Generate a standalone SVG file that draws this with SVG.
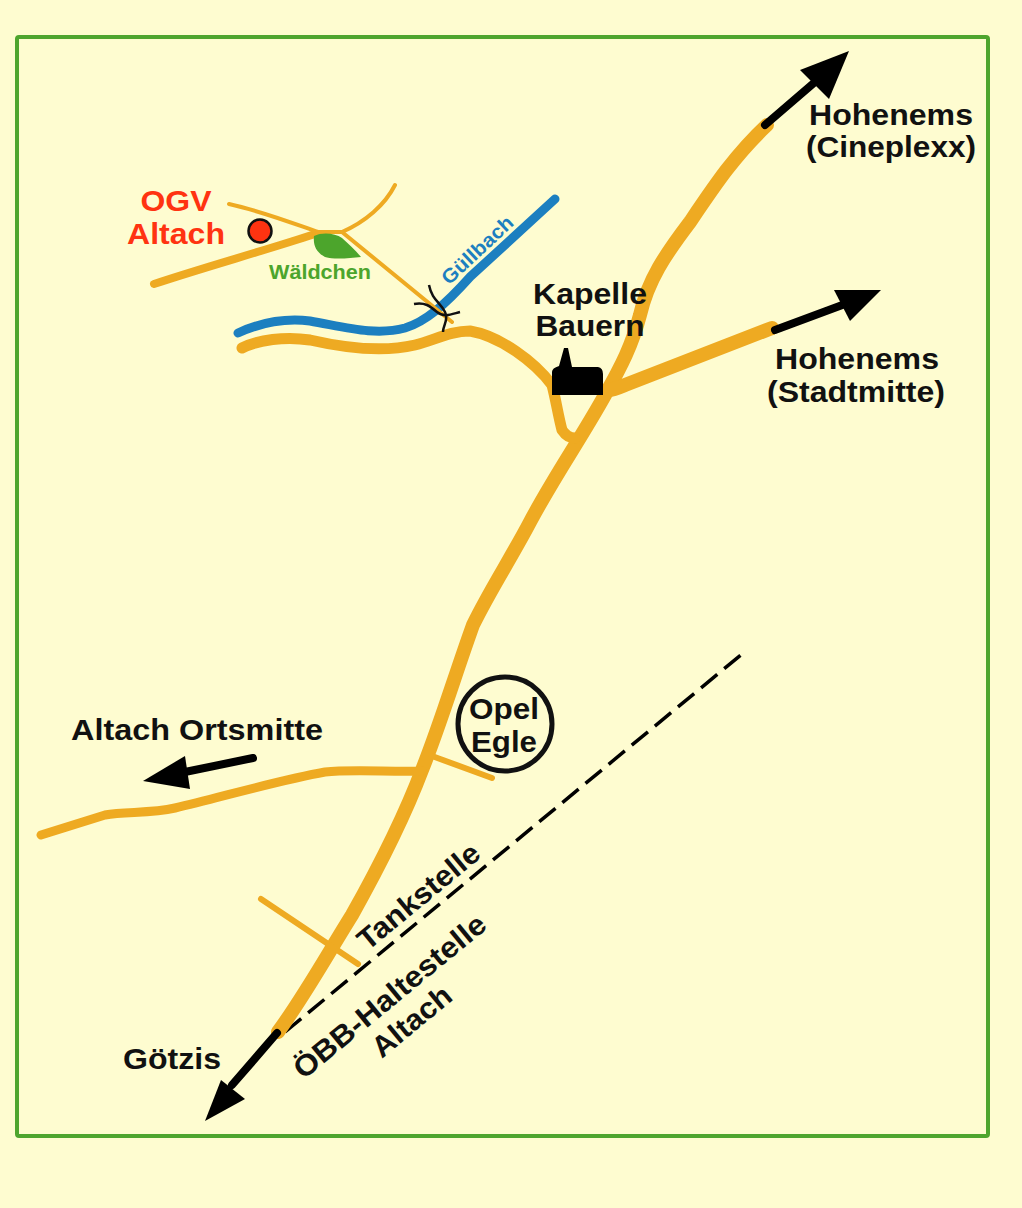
<svg xmlns="http://www.w3.org/2000/svg" width="1022" height="1208" viewBox="0 0 1022 1208">
<style>
.r{fill:none;stroke:#eeaa22;stroke-linecap:round;stroke-linejoin:round}
.a{fill:none;stroke:#000;stroke-width:8;stroke-linecap:round}
.h{fill:#000;stroke:none}
text{font-family:"Liberation Sans",Arial,sans-serif;font-weight:bold;text-anchor:middle}
.t{font-size:29.500px;fill:#111}
.o{font-size:29.500px;fill:#ff3311}
</style>
<rect width="1022" height="1208" fill="#fefcd0"/>
<rect x="17" y="37" width="971" height="1099" rx="2" fill="none" stroke="#4ea52e" stroke-width="4"/>
<g id="connectors">
<path id="railway" d="M285 1032L742 654" fill="none" stroke="#000" stroke-width="3.500" stroke-dasharray="21 9"/>
<path id="bach" d="M238 333C262 322 285 318 310 321C345 327 375 336 405 328C425 322 445 305 470 277L555 199" fill="none" stroke="#1c7fc0" stroke-width="9" stroke-linecap="round"/>
<path class="r" stroke-width="14" d="M767 125C735 155 715 185 690 222C665 255 648 280 640 315C632 345 622 365 605 395C580 440 555 475 530 522C510 560 490 590 473 625C455 675 440 725 422 770C405 815 380 865 352 915C330 950 305 995 278 1032"/>
<path class="r" stroke-width="14" d="M772 328L625 385C618 388 612 390 605 391"/>
<path class="r" stroke-width="11" d="M242 348C258 340 285 336 310 340C345 348 385 352 415 345C435 340 450 331 470 331C500 336 535 362 552 385C556 400 558 415 562 430C566 436 570 438 575 438"/>
<path class="r" stroke-width="9" d="M41 835L105 815C125 811 150 814 175 808C225 796 280 780 325 772C350 769 390 772 422 771"/>
<path class="r" stroke-width="6" d="M432 756L492 778"/>
<path class="r" stroke-width="6" d="M261 899L358 964"/>
<path class="r" stroke-width="8" d="M154 284C205 267 260 252 315 234"/>
<path class="r" stroke-width="4" d="M229 204C265 212 300 226 318 232H342C365 222 385 205 395 185"/>
<path class="r" stroke-width="4" d="M342 232L452 322"/>
</g>
<g id="bridge" fill="none" stroke="#111" stroke-width="2.500">
<path d="M429 285C432 300 440 302 445 312C449 320 443 325 443 332"/>
<path d="M414 304C425 302 430 306 437 312C444 318 452 314 460 312"/>
</g>
<g id="arrow-cineplexx"><path class="a" d="M765 125L815 82"/><path class="h" d="M849 51L800 70L829 99Z"/></g>
<g id="arrow-stadtmitte"><path class="a" d="M775 330L845 304"/><path class="h" d="M881 290L834 290L850 321Z"/></g>
<g id="arrow-ortsmitte"><path class="a" d="M253 758L180 773"/><path class="h" d="M143 781L185 756L190 789Z"/></g>
<g id="arrow-goetzis"><path class="a" d="M277 1033L232 1085"/><path class="h" d="M205 1121L221 1080L245 1099Z"/></g>
<g id="ogv"><circle cx="260" cy="231" r="11.500" fill="#ff3311" stroke="#111" stroke-width="2.500"/>
<text class="o" x="176" y="211" textLength="71" lengthAdjust="spacingAndGlyphs">OGV</text><text class="o" x="176" y="244" textLength="98" lengthAdjust="spacingAndGlyphs">Altach</text></g>
<g id="waeldchen"><path d="M314 236C322 232 335 233 342 238C349 244 356 251 361 257C350 258 335 260 325 257C316 252 313 245 314 236Z" fill="#4ca52c"/>
<text x="320" y="279" font-size="20" fill="#4ca52c" textLength="102" lengthAdjust="spacingAndGlyphs">Wäldchen</text></g>
<g id="guellbach"><text x="482" y="255" font-size="20" fill="#1c7fc0" transform="rotate(-43 482 255)" textLength="90" lengthAdjust="spacingAndGlyphs">Güllbach</text></g>
<g id="kapelle"><path class="h" d="M552 395V372Q552 368 559 366L564 348L568 348L572 367H598Q603 368 603 374V395Z"/>
<text class="t" x="590" y="304" textLength="114" lengthAdjust="spacingAndGlyphs">Kapelle</text><text class="t" x="590" y="336" textLength="109" lengthAdjust="spacingAndGlyphs">Bauern</text></g>
<g id="opel"><circle cx="505" cy="724" r="47" fill="none" stroke="#111" stroke-width="5"/>
<text class="t" x="504" y="719" textLength="70" lengthAdjust="spacingAndGlyphs">Opel</text><text class="t" x="504" y="752" textLength="66" lengthAdjust="spacingAndGlyphs">Egle</text></g>
<g id="labels">
<text class="t" x="891" y="125" textLength="164" lengthAdjust="spacingAndGlyphs">Hohenems</text><text class="t" x="891" y="157" textLength="170" lengthAdjust="spacingAndGlyphs">(Cineplexx)</text>
<text class="t" x="857" y="369" textLength="164" lengthAdjust="spacingAndGlyphs">Hohenems</text><text class="t" x="856" y="402" textLength="178" lengthAdjust="spacingAndGlyphs">(Stadtmitte)</text>
<text class="t" x="197" y="740" textLength="252" lengthAdjust="spacingAndGlyphs">Altach Ortsmitte</text>
<text class="t" x="172" y="1069" textLength="98" lengthAdjust="spacingAndGlyphs">Götzis</text>
<text class="t" x="425" y="904" transform="rotate(-39.5 425 904)" textLength="149" lengthAdjust="spacingAndGlyphs">Tankstelle</text>
<text class="t" x="396" y="1004" transform="rotate(-39.5 396 1004)" textLength="240" lengthAdjust="spacingAndGlyphs">ÖBB-Haltestelle</text>
<text class="t" x="418" y="1029" transform="rotate(-39.5 418 1029)" textLength="94" lengthAdjust="spacingAndGlyphs">Altach</text>
</g>
</svg>
